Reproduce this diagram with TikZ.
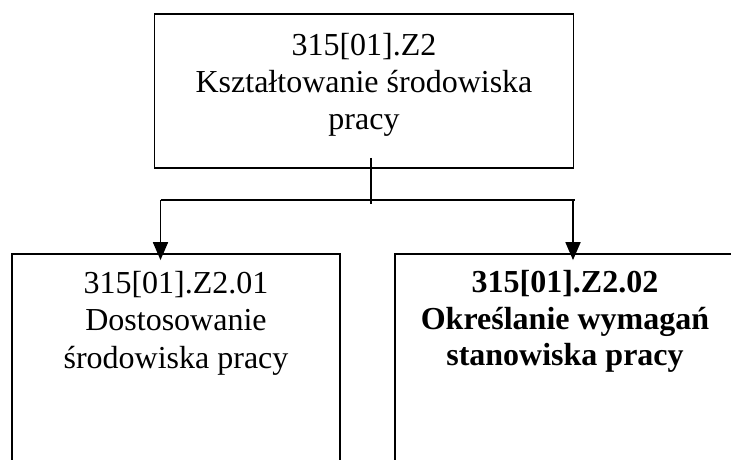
\documentclass[tikz,border=0pt]{standalone}
\usepackage{fontspec}
\setmainfont{Liberation Serif}
\usetikzlibrary{arrows.meta}
\begin{document}
\begin{tikzpicture}[x=1pt, y=-1pt, line width=1.8pt,
  box/.style={draw, rectangle, inner sep=0pt},
  txt/.style={anchor=base, inner sep=0pt, font=\fontsize{32}{37}\selectfont},
  btxt/.style={txt, font=\fontsize{32}{37}\selectfont\bfseries},
  link/.style={-{Triangle[width=15pt,length=18pt]}, shorten >=-7pt}]
\useasboundingbox (0,0) rectangle (731,459);
\clip (0,0) rectangle (731,459);

% boxes
\node[box, minimum width=419pt, minimum height=154pt] (top)   at (364,91)  {};
\node[box, minimum width=328pt, minimum height=230pt] (left)  at (176,369) {};
\node[box, minimum width=350pt, minimum height=230pt] (right) at (570,369) {};

% texts
\node[txt] (t1) at (364,55)  {315[01].Z2};
\node[txt] (t2) at (364,92)  {Kształtowanie środowiska};
\node[txt] (t3) at (364,129) {pracy};

\node[txt] (l1) at (176,293)   {315[01].Z2.01};
\node[txt] (l2) at (176,330.5) {Dostosowanie};
\node[txt] (l3) at (176,368)   {środowiska pracy};

\node[btxt] (r1) at (565,292) {315[01].Z2.02};
\node[btxt] (r2) at (565,329) {Określanie wymagań};
\node[btxt] (r3) at (565,365) {stanowiska pracy};

% connectors
\coordinate (j)  at (371,200);
\coordinate (jl) at (160.5,200);
\coordinate (jr) at (573,200);
\coordinate (je) at (575,200);
\draw ([yshift=11pt]top.south -| j) -- ([yshift=-4pt]j);
\draw (jl) -- (je);
\draw[link] (jl) -- (left.north -| jl);
\draw[link] (jr) -- (right.north -| jr);
\end{tikzpicture}
\end{document}
